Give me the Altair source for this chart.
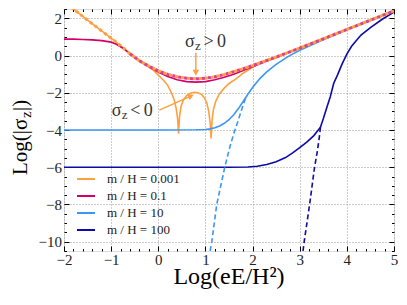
import altair as alt
import pandas as pd

FONT = "Liberation Serif"

series_names = ["m / H = 0.001", "m / H = 0.1", "m / H = 10", "m / H = 100"]
series_colors = ["#FFA040", "#D4006A", "#3A97F7", "#0B0BA8"]

# m/H = 0.001 (solid)
orange_x = [-2.0, -1.5, -1.0, -0.8, -0.6, -0.4, -0.2, -0.1, 0.0, 0.1, 0.2, 0.28, 0.34, 0.38, 0.41, 0.43,
            0.45, 0.48, 0.53, 0.6, 0.68, 0.76, 0.84, 0.92, 0.98, 1.03, 1.07, 1.1, 1.12,
            1.14, 1.17, 1.22, 1.3, 1.4, 1.5, 1.65, 1.8, 1.95, 2.1, 2.25, 2.5, 2.75, 3.0, 3.5, 4.0, 4.5, 5.0]
orange_y = [2.9, 1.9, 0.93, 0.53, 0.1, -0.28, -0.62, -0.8, -1.05, -1.3, -1.6, -2.0, -2.4, -2.85, -3.4, -4.2,
            -3.3, -2.75, -2.4, -2.15, -2.02, -1.97, -2.0, -2.1, -2.28, -2.55, -3.0, -3.6, -4.45,
            -3.5, -2.9, -2.45, -2.05, -1.75, -1.5, -1.25, -0.95, -0.72, -0.47, -0.31, -0.08, 0.16, 0.4, 0.9, 1.4, 1.9, 2.4]

# m/H = 0.1 (solid)
red_x = [-2.0, -1.8, -1.6, -1.4, -1.2, -1.0, -0.9, -0.8, -0.7, -0.6, -0.4, -0.2, 0.0, 0.2, 0.4, 0.6, 0.8,
         1.0, 1.2, 1.4, 1.6, 1.8, 2.0, 2.25, 2.5, 2.75, 3.0, 3.5, 4.0, 4.5, 5.0]
red_y = [0.88, 0.88, 0.86, 0.84, 0.8, 0.72, 0.62, 0.47, 0.3, 0.08, -0.29, -0.6, -0.88, -1.12, -1.3, -1.4, -1.43,
         -1.4, -1.3, -1.17, -1.0, -0.8, -0.6, -0.35, -0.1, 0.15, 0.4, 0.9, 1.4, 1.9, 2.4]

# m/H = 10 (solid)
lblue_x = [-2.0, 0.0, 0.8, 1.0, 1.1, 1.2, 1.3, 1.4, 1.5, 1.6, 1.7, 1.8, 1.9, 2.0, 2.15, 2.3, 2.5, 2.75,
           3.0, 3.5, 4.0, 4.5, 5.0]
lblue_y = [-4.0, -4.0, -3.99, -3.97, -3.94, -3.88, -3.78, -3.64, -3.45, -3.18, -2.85, -2.47, -2.08, -1.72,
           -1.25, -0.88, -0.47, -0.06, 0.28, 0.85, 1.38, 1.9, 2.4]

# m/H = 100 (solid)
dblue_x = [-2.0, 1.5, 1.9, 2.1, 2.3, 2.5, 2.7, 2.85, 3.0, 3.15, 3.3, 3.44, 3.5, 3.58, 3.65, 3.72, 3.8, 3.9,
           4.0, 4.1, 4.3, 4.5, 4.75, 5.0]
dblue_y = [-6.0, -6.0, -5.99, -5.95, -5.85, -5.7, -5.48, -5.23, -4.95, -4.65, -4.3, -3.85, -3.4, -2.75,
           -2.2, -1.5, -1.05, -0.45, 0.08, 0.5, 1.1, 1.5, 1.95, 2.33]

# dashed approximations
lblue_dash_x = [1.1, 1.135, 1.24, 1.41, 1.52, 1.6, 1.7, 1.8, 1.85]
lblue_dash_y = [-10.5, -10.0, -8.0, -6.0, -4.9, -4.2, -3.45, -2.65, -2.3]
dblue_dash_x = [3.07, 3.095, 3.21, 3.315, 3.37, 3.41, 3.44]
dblue_dash_y = [-10.5, -10.0, -8.0, -6.0, -5.2, -4.5, -3.85]

# dotted envelope (sigma_z > 0 approximation)
env_x = [-2.0, -1.8, -1.5, -1.2, -1.0, -0.8, -0.6, -0.4, -0.2, 0.0, 0.2, 0.4, 0.6, 0.8, 1.0, 1.2, 1.4,
         1.6, 1.8, 2.0, 2.25, 2.5, 2.75, 3.0, 3.5, 4.0, 4.5, 5.0]
env_y = [2.9, 2.5, 1.9, 1.32, 0.93, 0.53, 0.1, -0.28, -0.57, -0.82, -1.01, -1.14, -1.22, -1.25, -1.22,
         -1.14, -1.02, -0.87, -0.71, -0.54, -0.31, -0.08, 0.16, 0.4, 0.9, 1.4, 1.9, 2.4]
env_pink_start = -0.7

# annotations
arrow_pos_x = [0.796, 0.796]
arrow_pos_y = [0.15, -0.87]
arrow_neg_x = [0.023, 0.677]
arrow_neg_y = [-2.93, -2.196]
label_pos_xy = [0.569, 0.457]
label_neg_xy = [-0.987, -3.25]

x_ticks = [round(-2 + 0.2 * i, 1) for i in range(36)]
y_ticks = [round(-10.5 + 0.5 * i, 1) for i in range(27)]


def frame(xs, ys, name):
    return pd.DataFrame({"x": xs, "y": ys, "series": name})


solid_df = pd.concat([
    frame(orange_x, orange_y, series_names[0]),
    frame(red_x, red_y, series_names[1]),
    frame(lblue_x, lblue_y, series_names[2]),
    frame(dblue_x, dblue_y, series_names[3]),
], ignore_index=True)
lb_dash_df = frame(lblue_dash_x, lblue_dash_y, series_names[2])
db_dash_df = frame(dblue_dash_x, dblue_dash_y, series_names[3])
env_df = frame(env_x, env_y, "env")
env_pink_df = env_df[env_df["x"] >= env_pink_start]

xs = alt.Scale(domain=[-2, 5], nice=False, zero=False)
ys = alt.Scale(domain=[-10.5, 2.5], nice=False, zero=False)

x_major = "abs(datum.value - round(datum.value)) < 0.001"
y_major = "abs(datum.value / 2 - round(datum.value / 2)) < 0.001"


def make_axis(values, test, orient, labels, grid, pad):
    kw = dict(
        orient=orient, values=values, title=None, labels=labels, domain=False,
        ticks=True, tickColor="black", tickWidth=1,
        tickSize={"expr": f"({test}) ? -5 : -2.5"},
        grid=grid,
    )
    if labels:
        kw.update(labelExpr=f"({test}) ? format(round(datum.value), 'd') : ''",
                  labelFont=FONT, labelFontSize=15, labelColor="#222222",
                  labelOverlap=False, labelFlush=False, labelPadding=pad)
    if grid:
        kw.update(gridColor="#999999", gridDash=[1, 2], gridWidth=1,
                  gridOpacity={"condition": {"test": test, "value": 1}, "value": 0})
    return alt.Axis(**kw)


bottom_axis = make_axis(x_ticks, x_major, "bottom", True, True, 6)
left_axis = make_axis(y_ticks, y_major, "left", True, True, 7.5)
top_axis = make_axis(x_ticks, x_major, "top", False, False, 0)
right_axis = make_axis(y_ticks, y_major, "right", False, False, 0)

color = alt.Color("series:N", scale=alt.Scale(domain=series_names, range=series_colors),
                  legend=alt.Legend(orient="none", legendX=12, legendY=160, title=None,
                                    symbolType="stroke", symbolSize=324, symbolStrokeWidth=2,
                                    labelFont=FONT, labelFontSize=13, labelColor="#222222",
                                    labelOffset=11, rowPadding=0, padding=0))

solid = alt.Chart(solid_df).mark_line(strokeWidth=1.6, clip=True).encode(
    x=alt.X("x:Q", scale=xs, axis=bottom_axis),
    y=alt.Y("y:Q", scale=ys, axis=left_axis),
    color=color,
    detail="series:N",
)

frame_axes = alt.Chart(solid_df).mark_point(opacity=0).encode(
    x=alt.X("x:Q", scale=xs, axis=top_axis),
    y=alt.Y("y:Q", scale=ys, axis=right_axis),
)


def plain(df, mark):
    return alt.Chart(df).mark_line(clip=True, **mark).encode(
        x=alt.X("x:Q", scale=xs, axis=None),
        y=alt.Y("y:Q", scale=ys, axis=None),
    )


lb_dash = plain(lb_dash_df, dict(color=series_colors[2], strokeWidth=1.6, strokeDash=[5, 3]))
db_dash = plain(db_dash_df, dict(color=series_colors[3], strokeWidth=1.6, strokeDash=[5, 3]))
env_pink = plain(env_pink_df, dict(color="#E0408A", strokeWidth=3, strokeDash=[3, 3]))
env_orange = plain(env_df, dict(color=series_colors[0], strokeWidth=3, strokeDash=[3, 3], strokeDashOffset=3))

arrow_df = pd.DataFrame({"x": arrow_pos_x + arrow_neg_x, "y": arrow_pos_y + arrow_neg_y,
                         "g": ["a", "a", "b", "b"]})
arrows = alt.Chart(arrow_df).mark_line(color="#FFA040", strokeWidth=1.5).encode(
    x=alt.X("x:Q", scale=xs, axis=None), y=alt.Y("y:Q", scale=ys, axis=None), detail="g:N")
head_df = pd.DataFrame({"x": [arrow_pos_x[1], arrow_neg_x[1]], "y": [arrow_pos_y[1], arrow_neg_y[1]],
                        "ang": [180, 66]})
heads = alt.Chart(head_df).mark_point(shape="triangle", filled=True, size=45, color="#FFA040", opacity=1).encode(
    x=alt.X("x:Q", scale=xs, axis=None), y=alt.Y("y:Q", scale=ys, axis=None), angle=alt.Angle("ang:Q", scale=None))


def ann(xy, text, dx, dy, size):
    d = pd.DataFrame({"x": [xy[0]], "y": [xy[1]]})
    return alt.Chart(d).mark_text(text=text, font=FONT, fontSize=size, color="#333333", align="left",
                                  baseline="alphabetic", dx=dx, dy=dy).encode(
        x=alt.X("x:Q", scale=xs, axis=None), y=alt.Y("y:Q", scale=ys, axis=None))


ann_layers = []
for xy, sym in [(label_pos_xy, ">"), (label_neg_xy, "<")]:
    ann_layers += [ann(xy, "σ", 0, 0, 18), ann(xy, "z", 10, 3, 13), ann(xy, sym, 18.5, 0, 18),
                   ann(xy, "0", 32, 0, 18)]

one = pd.DataFrame({"a": [0]})


def ytitle(text, dx, dy, size):
    return alt.Chart(one).mark_text(text=text, font=FONT, fontSize=size, color="black", align="left",
                                    baseline="alphabetic", angle=270, dx=dx, dy=dy).encode(
        x=alt.value(-37), y=alt.value(166))


xtitle = alt.Chart(one).mark_text(text="Log(eE/H²)", font=FONT, fontSize=24, color="black", align="center",
                                  baseline="alphabetic").encode(x=alt.value(165), y=alt.value(275))

chart = alt.layer(
    solid, frame_axes, lb_dash, db_dash, env_pink, env_orange, arrows, heads, *ann_layers,
    ytitle("Log(|σ", 0, 0, 21), ytitle("z", 57, 4, 15), ytitle("|)", 64, 0, 21), xtitle,
).resolve_axis(x="independent", y="independent").properties(
    width=330, height=242,
    padding={"left": 56, "top": 1, "right": 5, "bottom": 46},
    autosize=alt.AutoSizeParams(type="none"),
).configure_view(stroke="black", strokeWidth=1.2).configure(font=FONT)

chart.save("out.html", embed_options={"renderer": "svg", "actions": False})
